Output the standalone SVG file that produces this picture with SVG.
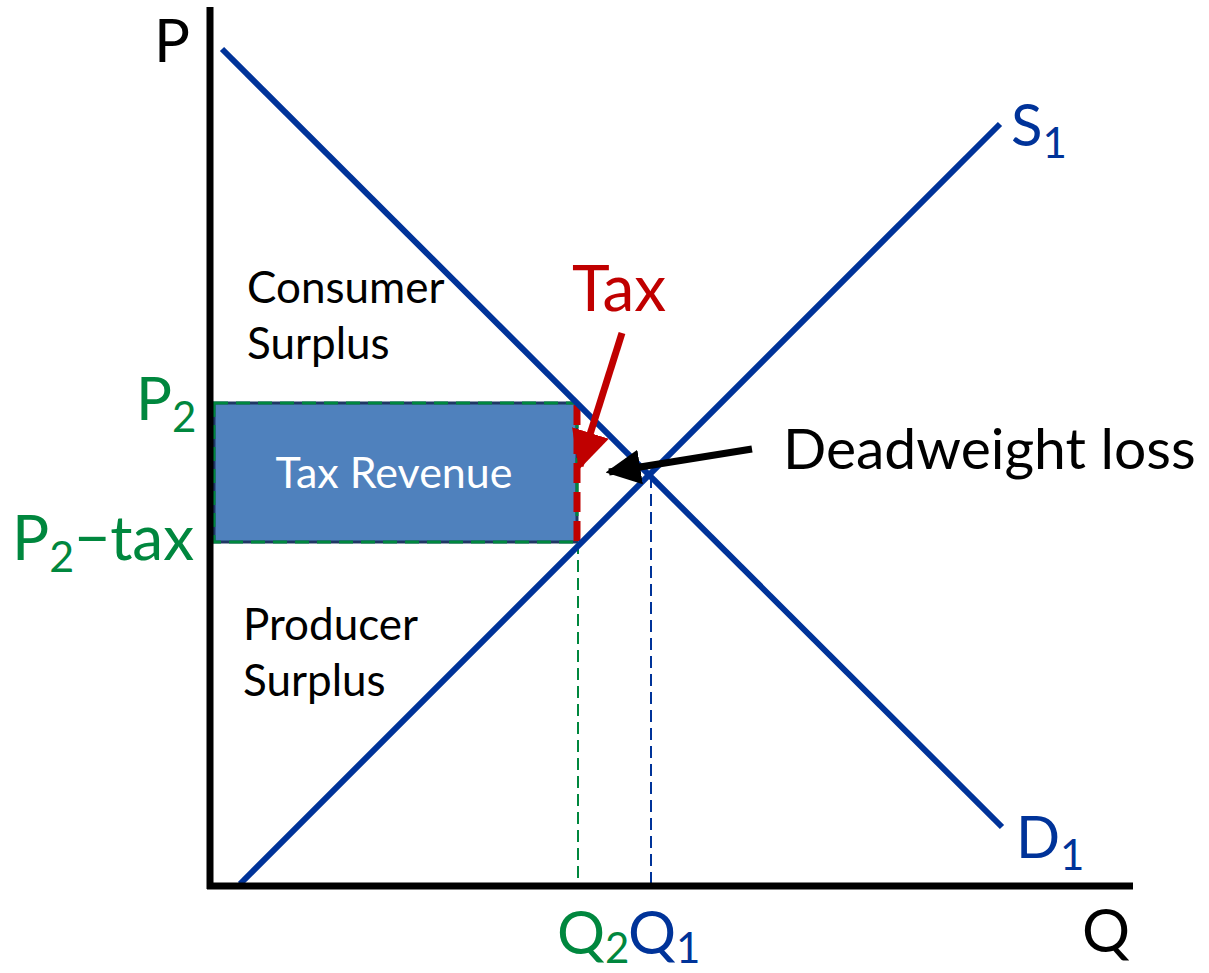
<svg xmlns="http://www.w3.org/2000/svg" width="1209" height="973" viewBox="0 0 1209 973">
<style>
.t{font-family:Lato,"Open Sans",sans-serif}
.blk{fill:#000}
.blu{fill:#003399}
.grn{fill:#00873E}
.curve{stroke:#003399;stroke-width:6;fill:none}
</style>
<defs>
<marker id="ar" viewBox="0 0 10 10" refX="9" refY="5" markerWidth="5" markerHeight="5" orient="auto" markerUnits="strokeWidth"><path d="M0,0 L10,5 L0,10 z" fill="#000"/></marker>
<marker id="arr" viewBox="0 0 10 10" refX="9" refY="5" markerWidth="5.5" markerHeight="5.5" orient="auto" markerUnits="strokeWidth"><path d="M0,0 L10,5 L0,10 z" fill="#C00000"/></marker>
</defs>
<rect width="1209" height="973" fill="#fff"/>
<g id="revenue">
<rect x="214" y="403" width="363" height="139" fill="#4F81BD" stroke="#1F3864" stroke-width="3"/>
<rect x="214" y="403" width="363" height="139" fill="none" stroke="#00873E" stroke-width="3" stroke-dasharray="14,8"/>
<text class="t" x="394" y="488" font-size="43" fill="#fff" text-anchor="middle">Tax Revenue</text>
</g>
<g id="connectors">
<line x1="578" y1="542" x2="578" y2="886" stroke="#00873E" stroke-width="2" stroke-dasharray="12,6"/>
<line x1="651" y1="476" x2="651" y2="886" stroke="#003399" stroke-width="2" stroke-dasharray="12,6"/>
<line x1="577" y1="405" x2="577" y2="541" stroke="#C00000" stroke-width="7" stroke-dasharray="20,9"/>
<line class="curve" x1="222" y1="49" x2="1002" y2="827"/>
<line class="curve" x1="240" y1="884" x2="1000" y2="124"/>
<line x1="210" y1="7" x2="210" y2="889" stroke="#000" stroke-width="7"/>
<line x1="207" y1="886" x2="1133" y2="886" stroke="#000" stroke-width="7"/>
<line x1="622" y1="333" x2="580" y2="466" stroke="#C00000" stroke-width="7" marker-end="url(#arr)"/>
<line x1="752" y1="449" x2="609" y2="472" stroke="#000" stroke-width="7" marker-end="url(#ar)"/>
</g>
<g id="labels">
<text class="t blk" x="154" y="62" font-size="60">P</text>
<text class="t blk" x="1082" y="952" font-size="60">Q</text>
<text class="t blu" x="1011" y="146" font-size="58">S<tspan font-size="42" dy="12">1</tspan></text>
<text class="t blu" x="1016" y="858" font-size="58">D<tspan font-size="42" dy="12">1</tspan></text>
<text class="t blk" x="247" y="303" font-size="44">Consumer</text>
<text class="t blk" x="247" y="359" font-size="44">Surplus</text>
<text class="t blk" x="243" y="640" font-size="44">Producer</text>
<text class="t blk" x="243" y="696" font-size="44">Surplus</text>
<text class="t blk" x="783" y="469" font-size="57">Deadweight loss</text>
<text class="t" x="572" y="311" font-size="64" fill="#C00000">Tax</text>
<text class="t grn" x="136" y="420" font-size="60">P<tspan font-size="42" dy="12">2</tspan></text>
<text class="t grn" x="12" y="560" font-size="62">P<tspan font-size="43" dy="12">2</tspan><tspan dy="-12">−tax</tspan></text>
<text class="t grn" x="557" y="954" font-size="60">Q<tspan font-size="42" dy="9">2</tspan></text>
<text class="t blu" x="628" y="954" font-size="60">Q<tspan font-size="42" dy="9">1</tspan></text>
</g>
</svg>
